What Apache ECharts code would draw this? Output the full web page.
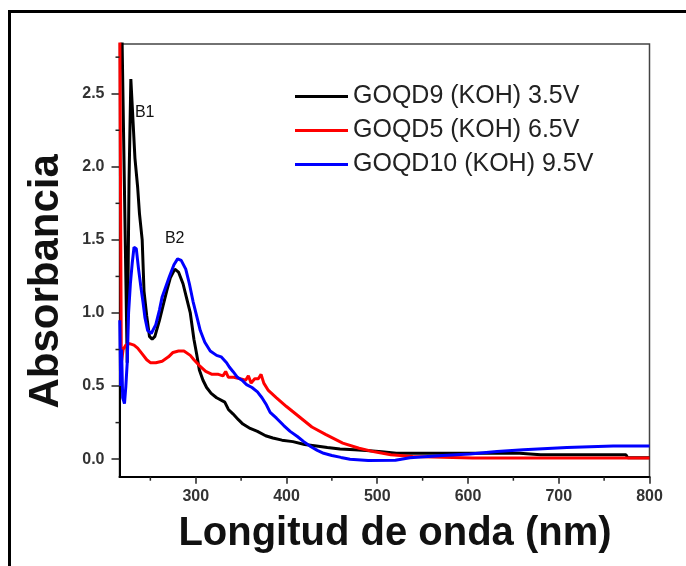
<!DOCTYPE html>
<html>
<head>
<meta charset="utf-8">
<title>Absorbancia UV-Vis GOQD</title>
<script src="https://cdn.jsdelivr.net/npm/echarts@6/dist/echarts.min.js"></script>
<style>
  html, body { margin: 0; padding: 0; background: #fff; }
  #chart { width: 686px; height: 566px; }
</style>
</head>
<body>
<div id="chart"></div>
<script>
// UV-Vis absorption spectra of graphene-oxide quantum dots (KOH electrolyte)
const seriesNames = ['GOQD9 (KOH) 3.5V', 'GOQD5 (KOH) 6.5V', 'GOQD10 (KOH) 9.5V'];
const seriesColors = ['#000000', '#ff0000', '#0000ff'];

// GOQD9 (KOH) 3.5V
const goqd9Nm = [218.5, 220.5, 224.5, 226.5, 228.5, 231, 233, 236, 238, 241, 243, 246, 249, 252, 255, 260, 264, 268, 272, 277,
  281, 286, 290, 294, 298, 301, 304, 308, 312, 317, 323, 332, 336, 341, 347, 352, 360, 368, 377, 385,
  395, 407, 420, 433, 445, 459, 475, 488, 505, 521, 540, 657, 680, 710, 745, 774, 776, 800];
const goqd9Abs = [3.0, 3.0, 0.66, 1.9, 2.6, 2.3, 2.06, 1.86, 1.68, 1.5, 1.15, 0.98, 0.84, 0.82, 0.84, 0.95, 1.05, 1.15, 1.24, 1.3,
  1.28, 1.2, 1.1, 1.0, 0.82, 0.72, 0.61, 0.54, 0.49, 0.45, 0.42, 0.39, 0.34, 0.31, 0.27, 0.24, 0.21, 0.19, 0.16, 0.145,
  0.13, 0.12, 0.1, 0.09, 0.08, 0.07, 0.065, 0.06, 0.05, 0.04, 0.04, 0.04, 0.03, 0.03, 0.03, 0.03, 0.01, 0.01];

// GOQD5 (KOH) 6.5V
const goqd5Nm = [216.3, 218, 220, 223, 227, 232, 236, 241, 246, 250, 256, 263, 270, 275, 281, 287, 294, 298, 304, 311,
  318, 325, 330, 333, 336, 342, 349, 355, 358, 361, 365, 369, 372, 375, 380, 389, 400, 414, 428, 443,
  462, 480, 497, 515, 539, 605, 800];
const goqd5Abs = [3.0, 0.66, 0.75, 0.78, 0.79, 0.78, 0.76, 0.72, 0.68, 0.66, 0.66, 0.67, 0.7, 0.73, 0.74, 0.74, 0.71, 0.68, 0.64, 0.6,
  0.58, 0.58, 0.57, 0.6, 0.56, 0.56, 0.55, 0.54, 0.57, 0.52, 0.55, 0.55, 0.58, 0.52, 0.47, 0.42, 0.36, 0.29, 0.22, 0.17,
  0.11, 0.075, 0.05, 0.03, 0.018, 0.008, 0.008];

// GOQD10 (KOH) 9.5V
const goqd10Nm = [216.3, 217.3, 218.3, 219.5, 221.5, 223, 224.5, 226, 228, 230, 232, 234.5, 237, 239.5, 242, 244, 247, 251, 256, 260,
  263, 267, 271, 276, 280, 284, 289, 293, 297, 301, 305, 310, 316, 323, 328, 331, 334, 337, 341, 346,
  351, 356, 362, 368, 373, 378, 382, 389, 397, 404, 412, 419, 427, 434, 441, 450, 460, 470, 490, 520,
  536, 572, 602, 632, 661, 709, 760, 800];
const goqd10Abs = [0.95, 0.5, 0.75, 0.42, 0.38, 0.5, 0.66, 1.0, 1.2, 1.34, 1.45, 1.44, 1.3, 1.18, 1.07, 0.97, 0.88, 0.86, 0.92, 1.02,
  1.11, 1.18, 1.25, 1.33, 1.37, 1.36, 1.3, 1.2, 1.08, 0.98, 0.88, 0.8, 0.74, 0.71, 0.7, 0.68, 0.66, 0.63, 0.6, 0.56,
  0.54, 0.51, 0.49, 0.46, 0.42, 0.37, 0.32, 0.28, 0.23, 0.19, 0.155, 0.12, 0.085, 0.06, 0.04, 0.025, 0.012, 0.0, -0.01, -0.008,
  0.01, 0.025, 0.036, 0.052, 0.064, 0.08, 0.09, 0.09];

// Axis ticks
const xMajorTicks = [300, 400, 500, 600, 700, 800];
const xMinorTicks = [250, 350, 450, 550, 650, 750];
const yMajorTicks = [0, 0.5, 1.0, 1.5, 2.0, 2.5];
const yMinorTicks = [0.25, 0.75, 1.25, 1.75, 2.25, 2.75];

// Peak annotations
const bandLabels = ['B1', 'B2'];
const bandCoords = [[243.8, 2.37], [276.8, 1.51]];

const X_MIN = 216, X_MAX = 800, Y_MIN = -0.12, Y_MAX = 2.84;
const FONT = '"Liberation Sans", Arial, sans-serif';

function zip(xs, ys) { return xs.map((x, i) => [x, ys[i]]); }
const allData = [zip(goqd9Nm, goqd9Abs), zip(goqd5Nm, goqd5Abs), zip(goqd10Nm, goqd10Abs)];

const chart = echarts.init(document.getElementById('chart'), null, { renderer: 'canvas' });

chart.setOption({
  animation: false,
  backgroundColor: '#fff',
  grid: {
    left: 119.5, top: 44, right: 36.5, bottom: 89.3,
    show: true, borderColor: '#444', borderWidth: 1.5, backgroundColor: 'transparent'
  },
  legend: {
    left: 295, top: 84, orient: 'vertical', padding: 0,
    icon: 'rect', itemWidth: 53, itemHeight: 3, itemGap: 9,
    textStyle: { fontFamily: FONT, fontSize: 25, color: '#222', lineHeight: 25 },
    data: seriesNames
  },
  xAxis: {
    type: 'value', min: X_MIN, max: X_MAX, position: 'bottom',
    name: 'Longitud de onda (nm)', nameLocation: 'middle', nameGap: 37,
    nameTextStyle: { fontFamily: FONT, fontSize: 40, fontWeight: 'bold', color: '#111',
      padding: [0, 0, 0, 21] },
    axisLine: { show: true, onZero: false, lineStyle: { color: '#000', width: 2 } },
    axisTick: { show: true, length: 7, lineStyle: { color: '#222', width: 1.5 }, customValues: xMajorTicks },
    axisLabel: { show: true, margin: 12, customValues: xMajorTicks,
      fontFamily: FONT, fontSize: 16, fontWeight: 'bold', color: '#333' },
    splitLine: { show: false }
  },
  yAxis: {
    type: 'value', min: Y_MIN, max: Y_MAX, position: 'left',
    name: 'Absorbancia', nameLocation: 'middle', nameGap: 52,
    nameTextStyle: { fontFamily: FONT, fontSize: 42, fontWeight: 'bold', color: '#111',
      padding: [0, 42, 0, 0] },
    axisLine: { show: true, onZero: false, lineStyle: { color: '#000', width: 2 } },
    axisTick: { show: true, length: 8, lineStyle: { color: '#222', width: 1.5 }, customValues: yMajorTicks },
    axisLabel: { show: true, margin: 15, customValues: yMajorTicks,
      formatter: v => v.toFixed(1),
      fontFamily: FONT, fontSize: 16, fontWeight: 'bold', color: '#333' },
    splitLine: { show: false }
  },
  series: allData.map((d, i) => ({
    name: seriesNames[i],
    type: 'line',
    data: d,
    symbol: 'none',
    clip: true,
    z: 2 + i,
    lineStyle: { color: seriesColors[i], width: 3 },
    itemStyle: { color: seriesColors[i] },
    markPoint: i === 0 ? {
      symbol: 'rect', symbolSize: [1, 1],
      itemStyle: { color: 'rgba(0,0,0,0)' },
      label: { show: true, position: 'inside', formatter: '{b}',
        fontFamily: FONT, fontSize: 16, color: '#111' },
      data: bandLabels.map((b, k) => ({ name: b, coord: bandCoords[k] }))
    } : undefined
  }))
});

// Minor ticks placed through the grid's scales, plus the outer frame
const toPx = (x, y) => chart.convertToPixel({ gridIndex: 0 }, [x, y]);
const origin = toPx(X_MIN, Y_MIN);
const tickLine = (x1, y1, x2, y2) => ({
  type: 'line', silent: true, z: 50,
  shape: { x1, y1, x2, y2 },
  style: { stroke: '#222', lineWidth: 1.5 }
});
const ticks = [];
xMinorTicks.forEach(v => { const p = toPx(v, Y_MIN)[0]; ticks.push(tickLine(p, origin[1], p, origin[1] + 4)); });
yMinorTicks.forEach(v => { const p = toPx(X_MIN, v)[1]; ticks.push(tickLine(origin[0], p, origin[0] - 4, p)); });

chart.setOption({
  graphic: ticks.concat([{
    type: 'rect', silent: true, z: 100,
    shape: { x: 9.5, y: 11.5, width: 720, height: 620 },
    style: { fill: 'none', stroke: '#000', lineWidth: 3 }
  }])
});
</script>
</body>
</html>
